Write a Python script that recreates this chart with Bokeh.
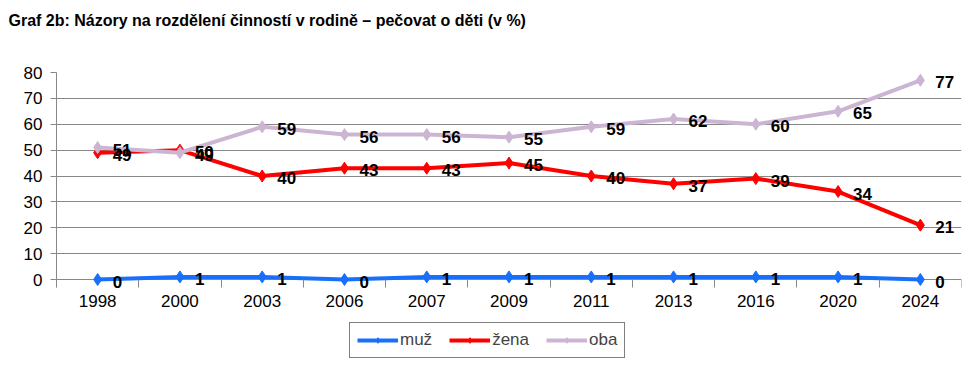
from bokeh.plotting import figure
from bokeh.models import FixedTicker, Legend, LegendItem, ColumnDataSource, Range1d, Title
from bokeh.core.properties import value
from bokeh.embed import file_html
from bokeh.resources import INLINE

years = ["1998", "2000", "2003", "2006", "2007", "2009", "2011", "2013", "2016", "2020", "2024"]
muz = [0, 1, 1, 0, 1, 1, 1, 1, 1, 1, 0]
zena = [49, 50, 40, 43, 43, 45, 40, 37, 39, 34, 21]
oba = [51, 49, 59, 56, 56, 55, 59, 62, 60, 65, 77]
series_names = ["muž", "žena", "oba"]
colors = ["#1A6FFA", "#FF0000", "#CCB5D3"]
y_ticks = list(range(0, 81, 10))
title_text = "Graf 2b: Názory na rozdělení činností v rodině – pečovat o děti (v %)"

xs = list(range(len(years)))

# frame reaches down to the legend strip; the x axis is pinned at the zero line
p = figure(frame_width=905, frame_height=291, output_backend="svg", toolbar_location=None,
           x_range=Range1d(-0.5, len(years) - 0.5), y_range=Range1d(-32.46, 80),
           min_border_left=56, min_border_right=11, min_border_top=10, min_border_bottom=0)
p.title = None
spacer_in = Title(text=" ", text_font_size="38px", standoff=0)
title = Title(text=title_text, text_font="Liberation Sans", text_font_size="16px",
              text_font_style="bold", text_color="#000000", offset=-48, standoff=0)
spacer_out = Title(text=" ", text_font_size="7px", standoff=0)
p.add_layout(spacer_in, "above")
p.add_layout(title, "above")
p.add_layout(spacer_out, "above")
p.outline_line_color = None
p.xgrid.grid_line_color = None
p.ygrid.grid_line_color = "#888888"
p.ygrid.grid_line_width = 1
p.yaxis.ticker = FixedTicker(ticks=y_ticks)
p.ygrid.ticker = FixedTicker(ticks=y_ticks)
p.xaxis.ticker = FixedTicker(ticks=xs, minor_ticks=[i - 0.5 for i in range(len(years) + 1)])
p.xaxis.major_label_overrides = {i: y for i, y in enumerate(years)}
for ax in (p.xaxis, p.yaxis):
    ax.axis_line_color = "#888888"
    ax.major_label_text_font = "Liberation Sans"
    ax.major_label_text_font_size = "17px"
    ax.major_label_text_color = "#000000"
p.xaxis.fixed_location = -3
p.xaxis.axis_line_color = None
p.xaxis.major_tick_line_color = None
p.xaxis.minor_tick_line_color = "#888888"
p.xaxis.minor_tick_out = 0
p.xaxis.minor_tick_in = 8
p.xaxis.major_label_standoff = 2
p.yaxis.bounds = (-3, 80)
p.yaxis.major_tick_line_color = "#888888"
p.yaxis.major_tick_out = 6
p.yaxis.major_tick_in = 0
p.yaxis.minor_tick_line_color = None
p.yaxis.major_label_standoff = 8

items = []
for name, vals, col in zip(series_names, [muz, zena, oba], colors):
    src = ColumnDataSource(dict(x=xs, y=vals))
    l = p.line("x", "y", source=src, line_color=col, line_width=4)
    m = p.scatter("x", "y", source=src, marker="diamond", size=12, fill_color=col, line_color=col)
    items.append(LegendItem(label=name, renderers=[l, m]))

for name, vals in zip(series_names, [oba, zena, muz]):
    src = ColumnDataSource(dict(x=xs, y=vals, t=[str(v) for v in vals]))
    p.text("x", "y", text="t", source=src, x_offset=15, y_offset=2,
           text_baseline="middle", text_align="left",
           text_font=value("Liberation Sans"), text_font_size="17px",
           text_font_style="bold", text_color="#000000")

legend = Legend(items=items, orientation="horizontal", location=(293, 5),
                border_line_color="#000000", border_line_width=1,
                label_text_font="Liberation Sans", label_text_font_size="17px",
                glyph_width=41, glyph_height=14, spacing=17, padding=7, margin=0,
                label_standoff=2)
p.add_layout(legend, "center")

open("out.html", "w").write(file_html(p, INLINE))
